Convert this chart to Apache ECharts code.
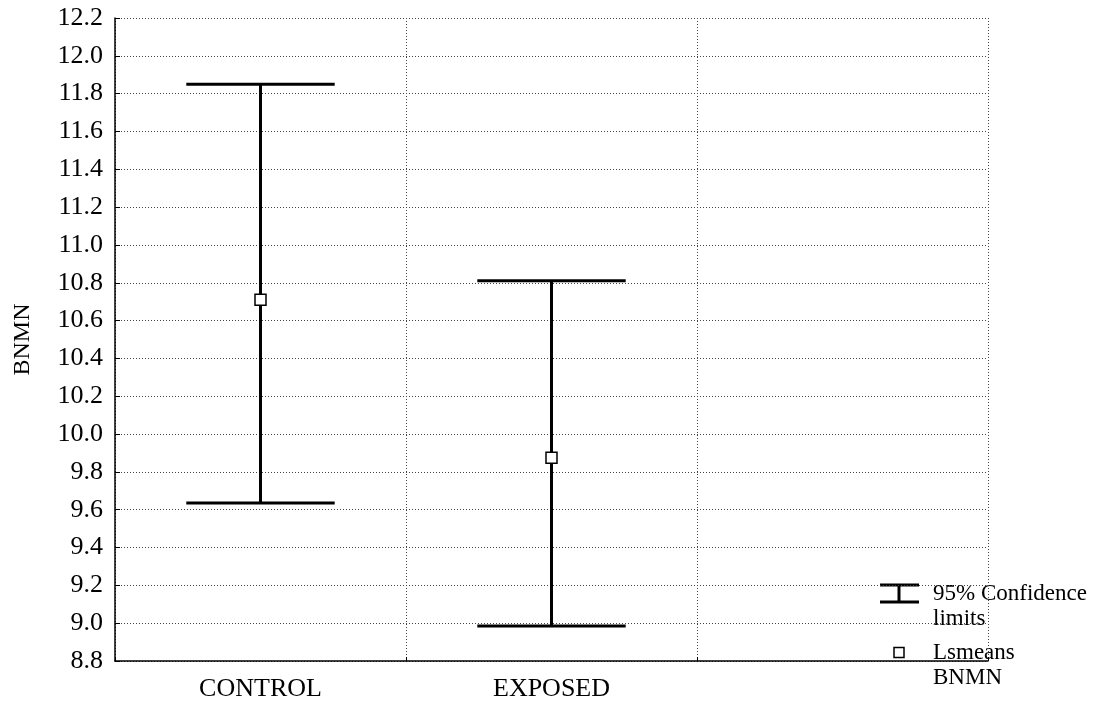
<!DOCTYPE html>
<html>
<head>
<meta charset="utf-8">
<title>BNMN least-squares means</title>
<script src="https://cdn.jsdelivr.net/npm/echarts@6/dist/echarts.min.js"></script>
<style>
  html, body { margin: 0; padding: 0; background: #fff; }
  #chart { width: 1097px; height: 702px; }
</style>
</head>
<body>
<div id="chart"></div>
<script>
// Groups on the x axis (third slot left empty)
const categories = ['CONTROL', 'EXPOSED', ''];
// Least-squares means of BNMN per group
const lsmeans = [10.71, 9.875];
// 95% confidence limits per group
const lowerCL = [9.635, 8.985];
const upperCL = [11.85, 10.81];
// Y axis range and step
const yMin = 8.8, yMax = 12.2, yStep = 0.2;

const FONT = 'Liberation Serif, Times New Roman, serif';

const ciData = lowerCL.map((lo, i) => [i, lo, upperCL[i]]);
const meanData = lsmeans.map((m, i) => [i, m]);

const chart = echarts.init(document.getElementById('chart'), null, { renderer: 'canvas' });

const gridLine = { show: true, lineStyle: { color: '#444', type: [1, 2], width: 1 } };

chart.setOption({
  animation: false,
  backgroundColor: '#ffffff',
  grid: { left: 115, top: 18, right: 109, bottom: 41, containLabel: false },
  xAxis: {
    type: 'category',
    data: categories,
    boundaryGap: true,
    axisLine: { show: true, lineStyle: { color: '#000', width: 1.5 } },
    axisTick: { show: true, inside: true, length: 4, lineStyle: { color: '#000' } },
    axisLabel: { color: '#000', fontFamily: FONT, fontSize: 26, margin: 15 },
    splitLine: gridLine
  },
  yAxis: {
    type: 'value',
    min: yMin,
    max: yMax,
    interval: yStep,
    name: 'BNMN',
    nameLocation: 'middle',
    nameGap: 80,
    nameRotate: 90,
    nameTextStyle: { color: '#000', fontFamily: FONT, fontSize: 24 },
    axisLine: { show: true, lineStyle: { color: '#000', width: 1.5 } },
    axisTick: { show: true, inside: true, length: 5, lineStyle: { color: '#000' } },
    axisLabel: {
      color: '#000', fontFamily: FONT, fontSize: 26, margin: 12,
      formatter: v => v.toFixed(1)
    },
    splitLine: gridLine
  },
  series: [
    {
      name: '95% Confidence limits',
      type: 'custom',
      data: ciData,
      z: 3,
      renderItem: function (params, api) {
        const x = api.value(0);
        const lo = api.coord([x, api.value(1)]);
        const hi = api.coord([x, api.value(2)]);
        const half = api.size([1, 0])[0] * 0.255;
        const style = { stroke: '#000', lineWidth: 3 };
        return {
          type: 'group',
          children: [
            { type: 'line', shape: { x1: lo[0], y1: lo[1], x2: hi[0], y2: hi[1] }, style },
            { type: 'line', shape: { x1: hi[0] - half, y1: hi[1], x2: hi[0] + half, y2: hi[1] }, style },
            { type: 'line', shape: { x1: lo[0] - half, y1: lo[1], x2: lo[0] + half, y2: lo[1] }, style }
          ]
        };
      }
    },
    {
      name: 'Lsmeans BNMN',
      type: 'scatter',
      data: meanData,
      z: 5,
      symbol: 'rect',
      symbolSize: 11,
      itemStyle: { color: '#fff', borderColor: '#000', borderWidth: 1.5, opacity: 1 }
    }
  ],
  graphic: [
    // Legend: confidence-limit glyph
    { type: 'line', shape: { x1: 880, y1: 585, x2: 919, y2: 585 }, style: { stroke: '#000', lineWidth: 3 } },
    { type: 'line', shape: { x1: 880, y1: 602, x2: 919, y2: 602 }, style: { stroke: '#000', lineWidth: 3 } },
    { type: 'line', shape: { x1: 899, y1: 585, x2: 899, y2: 602 }, style: { stroke: '#000', lineWidth: 3 } },
    {
      type: 'text', left: 933, top: 581,
      style: { text: '95% Confidence\nlimits', fill: '#000', font: '23px ' + FONT, lineHeight: 25 }
    },
    // Legend: mean marker
    { type: 'rect', shape: { x: 894, y: 647.5, width: 10, height: 10 }, style: { fill: '#fff', stroke: '#000', lineWidth: 1.5 } },
    {
      type: 'text', left: 933, top: 640,
      style: { text: 'Lsmeans\nBNMN', fill: '#000', font: '23px ' + FONT, lineHeight: 25 }
    }
  ]
});
</script>
</body>
</html>
